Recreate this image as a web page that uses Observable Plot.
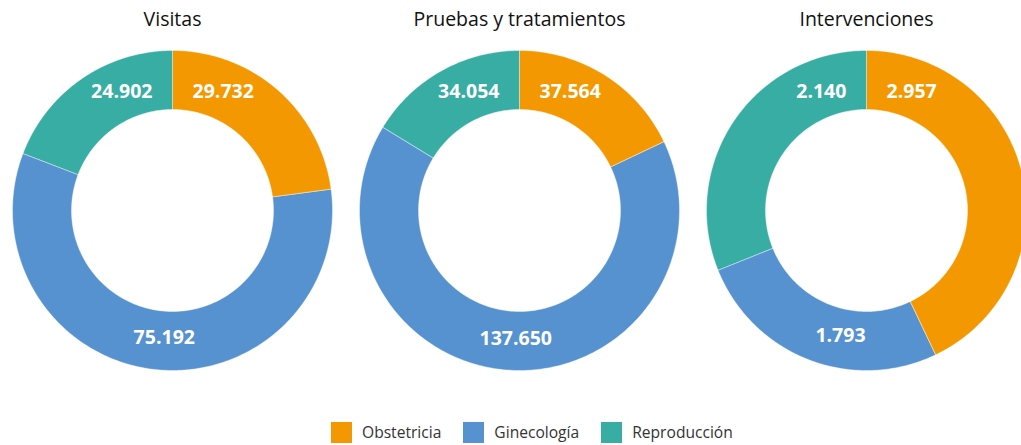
<!DOCTYPE html>
<html>
<head>
<meta charset="utf-8">
<script src="https://cdn.jsdelivr.net/npm/d3@7"></script>
<script src="https://cdn.jsdelivr.net/npm/@observablehq/plot@0.6"></script>
<style>
  html, body { margin: 0; padding: 0; background: #fff; }
  #chart { width: 1021px; height: 445px; overflow: hidden; }
  #legend-wrap { padding-left: 331px; padding-top: 2px; }
  .lg-swatch { margin-right: 22px !important; }
  .lg-swatch > svg { margin-right: 10px !important; }
</style>
</head>
<body>
<div id="chart"></div>
<script>
// ---- data ----
const titles = ["Visitas", "Pruebas y tratamientos", "Intervenciones"];
const categories = ["Obstetricia", "Ginecología", "Reproducción"];
const visitas = [29732, 75192, 24902];
const pruebas = [37564, 137650, 34054];
const intervenciones = [2957, 1793, 2140];
const colors = ["#F39800", "#5692D0", "#37ADA3"];

// ---- layout ----
const W = 1021, H = 415;
const centers = [172, 519, 866];
const cy = 210, R = 160, r0 = 101;

const es = d3.formatLocale({decimal: ",", thousands: ".", grouping: [3], currency: ["", " €"]});
const fmt = es.format(",d");

const series = [visitas, pruebas, intervenciones];
const pie = d3.pie().sort(null).startAngle(0).endAngle(2 * Math.PI);

const polys = [];   // polygon vertices
const labels = [];  // label records
series.forEach((vals, k) => {
  const cx = centers[k];
  const arcs = pie(vals);
  arcs.forEach((a, i) => {
    const id = k + "-" + i;
    const n = Math.max(8, Math.ceil((a.endAngle - a.startAngle) * 60));
    for (let j = 0; j <= n; j++) {
      const t = a.startAngle + (a.endAngle - a.startAngle) * j / n;
      polys.push({id, cat: categories[i], x: cx + R * Math.sin(t), y: cy - R * Math.cos(t)});
    }
    for (let j = n; j >= 0; j--) {
      const t = a.startAngle + (a.endAngle - a.startAngle) * j / n;
      polys.push({id, cat: categories[i], x: cx + r0 * Math.sin(t), y: cy - r0 * Math.cos(t)});
    }
    let ang, rr, anchor;
    if (i === 0) { ang = a.startAngle + 0.168; rr = 120; anchor = "start"; }
    else if (i === arcs.length - 1) { ang = a.endAngle - 0.168; rr = 120; anchor = "end"; }
    else {
      const mid = (a.startAngle + a.endAngle) / 2;
      ang = mid + (Math.PI - mid) * 0.45; rr = 128; anchor = "middle";
    }
    labels.push({x: cx + rr * Math.sin(ang), y: cy - rr * Math.cos(ang), text: fmt(a.data), anchor});
  });
});
const titleData = titles.map((t, k) => ({x: centers[k], y: 19, text: t}));

const font = "'Open Sans', 'DejaVu Sans', sans-serif";
const labelMark = (anchor) => Plot.text(labels.filter(d => d.anchor === anchor), {
  x: "x", y: "y", text: "text", textAnchor: anchor, fill: "white",
  fontSize: 19.5, fontWeight: "bold", fontFamily: font
});

const plot = Plot.plot({
  width: W, height: H, margin: 0,
  style: {fontFamily: font, background: "white"},
  x: {domain: [0, W], range: [0, W], axis: null},
  y: {domain: [0, H], range: [0, H], axis: null},
  color: {domain: categories, range: colors},
  marks: [
    Plot.line(polys, {x: "x", y: "y", z: "id", fill: "cat", stroke: "white", strokeWidth: 0.4, curve: "linear-closed"}),
    labelMark("start"),
    labelMark("end"),
    labelMark("middle"),
    Plot.text(titleData, {x: "x", y: "y", text: "text", fill: "#111", fontSize: 19.5, fontFamily: font, letterSpacing: "-0.4px"})
  ]
});

const legend = Plot.legend({
  color: {domain: categories, range: colors},
  legend: "swatches",
  swatchSize: 21,
  className: "lg",
  style: {fontFamily: font, fontSize: "15.6px", color: "#333", minHeight: "30px"}
});

const chart = document.getElementById("chart");
chart.appendChild(plot);
const wrap = document.createElement("div");
wrap.id = "legend-wrap";
wrap.appendChild(legend);
chart.appendChild(wrap);
</script>
</body>
</html>
